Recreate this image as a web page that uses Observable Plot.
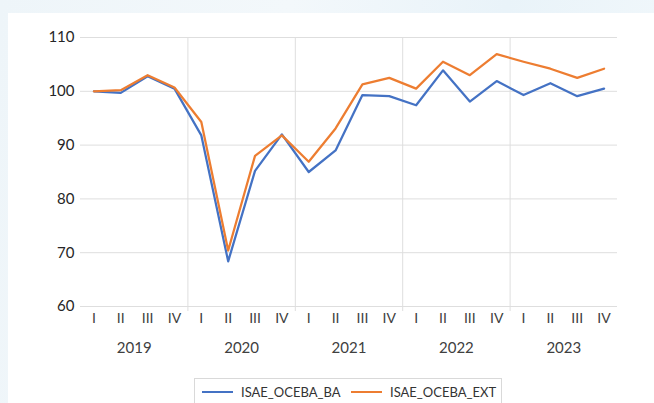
<!DOCTYPE html>
<html>
<head>
<meta charset="utf-8">
<script src="https://cdn.jsdelivr.net/npm/d3@7"></script>
<script src="https://cdn.jsdelivr.net/npm/@observablehq/plot@0.6"></script>
<style>
  html, body { margin: 0; padding: 0; }
  body {
    width: 654px; height: 403px; overflow: hidden; position: relative;
    background: linear-gradient(100deg, #eef5f9 0%, #f3f8fb 40%, #e9f3f9 70%, #f2f8fb 100%);
    font-family: Lato, "Open Sans", sans-serif;
  }
  #panel { position: absolute; left: 8px; top: 13px; right: 0; bottom: 0; background: #fff; }
  #chart { position: absolute; left: 0; top: 0; }
  #legend {
    position: absolute; left: 194px; top: 378px; width: 308px; height: 30px;
    border: 1px solid #d9d9d9; box-sizing: border-box;
    font-size: 13px; color: #333;
  }
  .item { position: absolute; top: 5px; display: flex; align-items: center; }
  .sw { width: 31px; height: 2.5px; margin-right: 8px; }
</style>
</head>
<body>
<div id="panel"></div>
<div id="chart"></div>
<div id="legend">
  <div class="item" style="left:7px"><span class="sw" style="background:#4472C4"></span>ISAE_OCEBA_BA</div>
  <div class="item" style="left:156px"><span class="sw" style="background:#ED7D31"></span>ISAE_OCEBA_EXT</div>
</div>
<script>
const quarterLabels = ["I", "II", "III", "IV"];
const years = [2019, 2020, 2021, 2022, 2023];
const seriesBA = [100.0, 99.7, 102.8, 100.5, 91.8, 68.4, 85.2, 92.0, 85.0, 89.0, 99.3, 99.1, 97.4, 103.9, 98.1, 101.9, 99.3, 101.5, 99.1, 100.5];
const seriesEXT = [100.0, 100.2, 103.0, 100.7, 94.3, 70.4, 88.0, 91.8, 86.9, 93.1, 101.3, 102.5, 100.5, 105.5, 103.0, 106.9, 105.5, 104.2, 102.5, 104.2];
const yTicks = [60, 70, 80, 90, 100, 110];

const rows = [];
years.forEach((yr, yi) => quarterLabels.forEach((q, qi) => {
  const i = yi * 4 + qi;
  rows.push({i, year: yr, q, ba: seriesBA[i], ext: seriesEXT[i]});
}));
const yearCenters = years.map((yr, yi) => ({x: yi * 4 + 1.5, label: String(yr)}));
const separators = years.slice(1).map((yr, yi) => (yi + 1) * 4 - 0.5);

const chart = Plot.plot({
  width: 654,
  height: 370,
  marginLeft: 80,
  marginRight: 37,
  marginTop: 37,
  marginBottom: 64,
  style: {background: "transparent", fontFamily: "Lato, 'Open Sans', sans-serif", fontSize: "15px", color: "#404040"},
  x: {domain: [-0.5, rows.length - 0.5], axis: null},
  y: {domain: [60, 110], axis: null},
  marks: [
    Plot.ruleY(yTicks, {stroke: "#dedede", strokeWidth: 1}),
    Plot.ruleX(separators, {y1: 110, y2: 60, stroke: "#dedede", strokeWidth: 1, insetBottom: -5}),
    Plot.axisY(yTicks, {tickSize: 0, tickPadding: 6, fontSize: 15, fill: "#262626"}),
    Plot.axisX(rows.map(d => d.i), {tickSize: 0, tickPadding: 7, tickFormat: i => rows[i].q, fontSize: 14, fill: "#404040"}),
    Plot.text(yearCenters, {x: "x", frameAnchor: "bottom", dy: 46, text: "label", fontSize: 15, fill: "#404040"}),
    Plot.line(rows, {x: "i", y: "ba", stroke: "#4472C4", strokeWidth: 2.25, strokeLinejoin: "round"}),
    Plot.line(rows, {x: "i", y: "ext", stroke: "#ED7D31", strokeWidth: 2.25, strokeLinejoin: "round"})
  ]
});
document.getElementById("chart").appendChild(chart);
</script>
</body>
</html>
